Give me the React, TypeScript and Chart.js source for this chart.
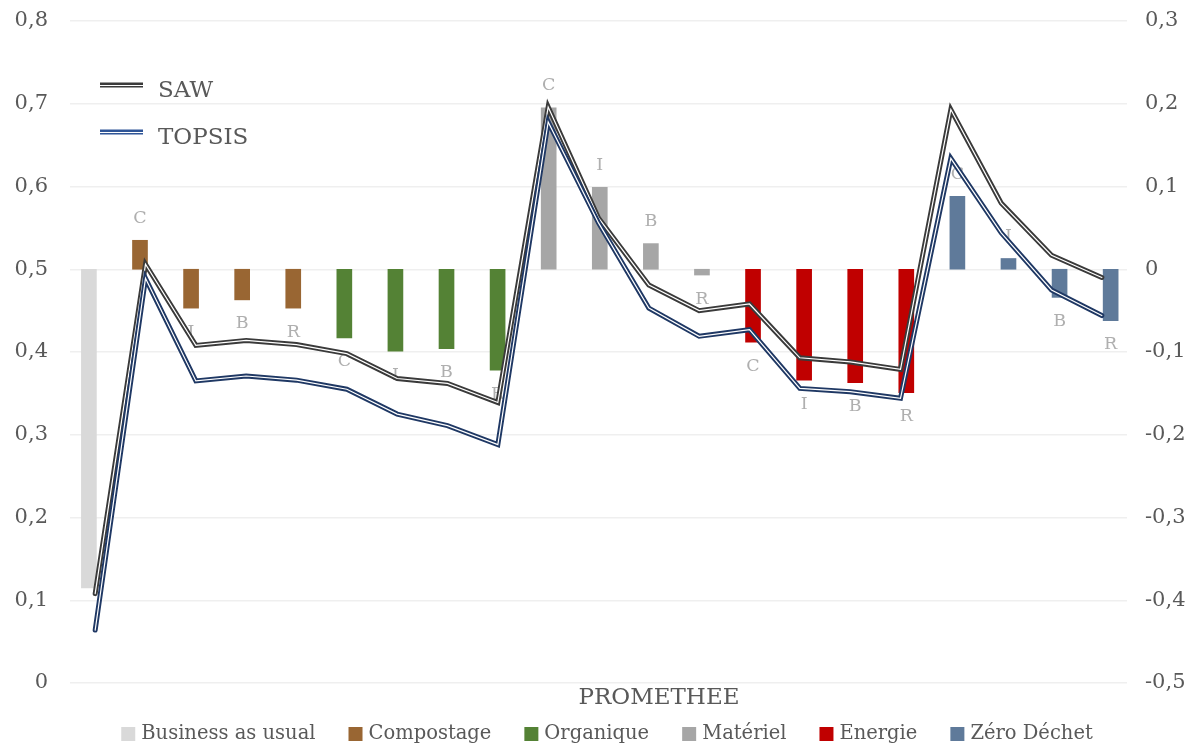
import React, { useEffect, useRef } from "react";
import { Chart, registerables } from "chart.js";

Chart.register(...registerables);

const categories = [
  "Business as usual",
  "Compostage C", "Compostage I", "Compostage B", "Compostage R",
  "Organique C", "Organique I", "Organique B", "Organique R",
  "Matériel C", "Matériel I", "Matériel B", "Matériel R",
  "Energie C", "Energie I", "Energie B", "Energie R",
  "Zéro Déchet C", "Zéro Déchet I", "Zéro Déchet B", "Zéro Déchet R",
];
const barLetters = ["", "C", "I", "B", "R", "C", "I", "B", "R", "C", "I", "B", "R", "C", "I", "B", "R", "C", "I", "B", "R"];
const groupNames = ["Business as usual", "Compostage", "Organique", "Matériel", "Energie", "Zéro Déchet"];
const groupColors = ["#d9d9d9", "#996633", "#548235", "#a6a6a6", "#c00000", "#5f7a9a"];
const groupOfCategory = [0, 1, 1, 1, 1, 2, 2, 2, 2, 3, 3, 3, 3, 4, 4, 4, 4, 5, 5, 5, 5];

const prometheeValues = [-0.385, 0.035, -0.047, -0.037, -0.047, -0.083, -0.099, -0.096, -0.122, 0.195, 0.099, 0.031, -0.007, -0.088, -0.134, -0.137, -0.149, 0.088, 0.013, -0.034, -0.062];
const sawValues = [0.108, 0.506, 0.408, 0.414, 0.409, 0.398, 0.368, 0.362, 0.339, 0.696, 0.562, 0.481, 0.45, 0.458, 0.393, 0.388, 0.379, 0.693, 0.58, 0.517, 0.49];
const topsisValues = [0.064, 0.489, 0.365, 0.371, 0.366, 0.355, 0.325, 0.311, 0.288, 0.678, 0.556, 0.453, 0.419, 0.427, 0.356, 0.352, 0.344, 0.634, 0.544, 0.475, 0.444];

const leftTickLabels = ["0", "0,1", "0,2", "0,3", "0,4", "0,5", "0,6", "0,7", "0,8"];
const rightTickLabels = ["-0,5", "-0,4", "-0,3", "-0,2", "-0,1", "0", "0,1", "0,2", "0,3"];

const lineSeries = ["SAW", "TOPSIS"];
const lineColors = ["#3a3a3a", "#1f3864"];
const lineLegendColors = ["#3a3a3a", "#2f5597"];
const barAxisTitle = "PROMETHEE";

const FONT = "'DejaVu Serif', serif";
const TEXT = "#595959";
const BAR_COUNT = groupNames.length;

const overlayPlugin = {
  id: "overlay",
  beforeDatasetsDraw(chart: any) {
    const ctx = chart.ctx;
    const yR = chart.scales.yR;
    ctx.save();
    ctx.font = `17.5px ${FONT}`;
    ctx.fillStyle = "#afafaf";
    ctx.textAlign = "center";
    ctx.textBaseline = "middle";
    for (let d = 0; d < BAR_COUNT; d++) {
      const meta = chart.getDatasetMeta(d);
      const ds = chart.data.datasets[d];
      meta.data.forEach((el: any, k: number) => {
        const idx = ds.data[k].x;
        const l = barLetters[idx];
        if (!l) return;
        const v = prometheeValues[idx];
        const y = yR.getPixelForValue(v);
        ctx.fillText(l, el.x, v >= 0 ? y - 22 : y + 24);
      });
    }
    ctx.restore();
  },
  afterDraw(chart: any) {
    const ctx = chart.ctx;
    ctx.save();
    const legY = [85, 132];
    lineSeries.forEach((name, k) => {
      const y = legY[k];
      ctx.lineCap = "butt";
      ctx.strokeStyle = lineLegendColors[k];
      ctx.lineWidth = 5;
      ctx.beginPath();
      ctx.moveTo(100, y);
      ctx.lineTo(143, y);
      ctx.stroke();
      ctx.strokeStyle = "#ffffff";
      ctx.lineWidth = 1.2;
      ctx.beginPath();
      ctx.moveTo(100, y + 0.5);
      ctx.lineTo(143, y + 0.5);
      ctx.stroke();
      ctx.font = `23px ${FONT}`;
      ctx.fillStyle = TEXT;
      ctx.textAlign = "left";
      ctx.textBaseline = "middle";
      ctx.fillText(name, 158, y + 6);
    });
    ctx.font = `23px ${FONT}`;
    ctx.fillStyle = TEXT;
    ctx.textAlign = "center";
    ctx.textBaseline = "middle";
    ctx.fillText(barAxisTitle, 659, 698);
    ctx.font = `19.5px ${FONT}`;
    const box = 14;
    const gapBoxText = 6;
    const gapItems = 33;
    const widths = groupNames.map((n) => ctx.measureText(n).width);
    const total = widths.reduce((a, w) => a + box + gapBoxText + w, 0) + gapItems * (groupNames.length - 1);
    let x = 607 - total / 2;
    const ly = 734;
    groupNames.forEach((n, k) => {
      ctx.fillStyle = groupColors[k];
      ctx.fillRect(x, ly - 7, box, box);
      x += box + gapBoxText;
      ctx.fillStyle = TEXT;
      ctx.textAlign = "left";
      ctx.fillText(n, x, ly);
      x += widths[k] + gapItems;
    });
    ctx.restore();
  },
};

export default function App() {
  const ref = useRef<HTMLCanvasElement | null>(null);
  useEffect(() => {
    if (!ref.current) return;
    const barSets = groupNames.map((name, g) => ({
      type: "bar" as const,
      label: name,
      data: categories
        .map((_, i) => i)
        .filter((i) => groupOfCategory[i] === g)
        .map((i) => ({ x: i, y: prometheeValues[i] })),
      backgroundColor: groupColors[g],
      borderWidth: 0,
      xAxisID: "xb",
      yAxisID: "yR",
      grouped: false,
      barThickness: 15,
      order: 10,
    }));
    const lineSet = (vals: number[], color: string, width: number, label: string, order: number) => ({
      type: "line" as const,
      label,
      data: vals,
      borderColor: color,
      borderWidth: width,
      pointRadius: 0,
      tension: 0,
      fill: false,
      borderCapStyle: "round" as const,
      borderJoinStyle: "miter" as const,
      xAxisID: "x",
      yAxisID: "yL",
      order,
    });
    const fixPad = (w: number) => (s: any) => {
      s.width = w;
      s.paddingTop = 0;
      s.paddingBottom = 0;
    };
    const chart = new Chart(ref.current, {
      data: {
        labels: categories,
        datasets: [
          ...barSets,
          lineSet(sawValues, lineColors[0], 5, lineSeries[0], 4),
          lineSet(sawValues, "#ffffff", 1.2, lineSeries[0] + " inner", 3),
          lineSet(topsisValues, lineColors[1], 5, lineSeries[1], 2),
          lineSet(topsisValues, "#ffffff", 1.2, lineSeries[1] + " inner", 1),
        ] as any,
      },
      options: {
        responsive: false,
        animation: false,
        devicePixelRatio: 1,
        layout: { padding: { top: 21, bottom: 64, left: 0, right: 0 } },
        plugins: { legend: { display: false }, tooltip: { enabled: false } },
        scales: {
          x: { type: "category", display: false, offset: true },
          xb: {
            type: "linear",
            display: false,
            offset: false,
            bounds: "data",
            grace: 0,
            min: -0.37,
            max: 20.32,
            grid: { offset: false },
          },
          yL: {
            position: "left",
            min: 0,
            max: 0.8,
            ticks: {
              stepSize: 0.1,
              callback: (_v: any, i: number) => leftTickLabels[i],
              font: { family: "DejaVu Serif", size: 21 },
              color: TEXT,
              padding: 22,
            },
            grid: { color: "#efefef", lineWidth: 1.5, drawTicks: false },
            border: { display: false },
            afterFit: fixPad(70),
          },
          yR: {
            position: "right",
            min: -0.5,
            max: 0.3,
            ticks: {
              stepSize: 0.1,
              callback: (_v: any, i: number) => rightTickLabels[i],
              font: { family: "DejaVu Serif", size: 21 },
              color: TEXT,
              padding: 18,
            },
            grid: { display: false, drawTicks: false },
            border: { display: false },
            afterFit: fixPad(76),
          },
        },
      } as any,
      plugins: [overlayPlugin],
    });
    return () => chart.destroy();
  }, []);
  return (
    <div style={{ position: "absolute", left: 0, top: 0, width: 1203, height: 747, background: "#fff" }}>
      <canvas ref={ref} width={1203} height={747} style={{ display: "block" }} />
    </div>
  );
}
